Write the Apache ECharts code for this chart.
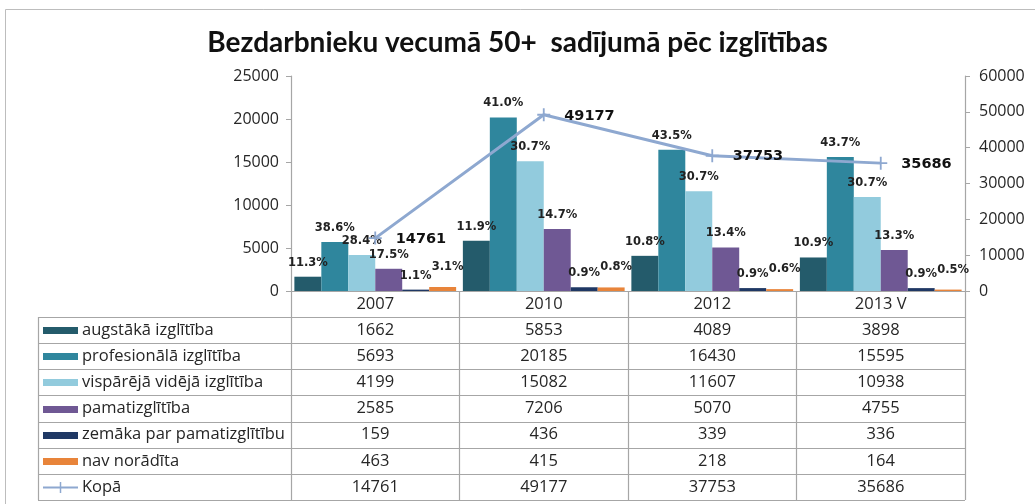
<!DOCTYPE html>
<html>
<head>
<meta charset="utf-8">
<script src="https://cdn.jsdelivr.net/npm/echarts@6/dist/echarts.min.js"></script>
<style>
  html, body { margin: 0; padding: 0; background: #fff; }
  #chart { width: 1035px; height: 504px; }
</style>
</head>
<body>
<div id="chart"></div>
<script>
const categories = ['2007', '2010', '2012', '2013 V'];
const seriesNames = [
  'augstākā izglītība',
  'profesionālā izglītība',
  'vispārējā vidējā izglītība',
  'pamatizglītība',
  'zemāka par pamatizglītību',
  'nav norādīta'
];
const augstaka = [1662, 5853, 4089, 3898];
const profesionala = [5693, 20185, 16430, 15595];
const visparejaVideja = [4199, 15082, 11607, 10938];
const pamatizglitiba = [2585, 7206, 5070, 4755];
const zemaka = [159, 436, 339, 336];
const navNoradita = [463, 415, 218, 164];
const kopa = [14761, 49177, 37753, 35686];
const totalName = 'Kopā';

const barData = [augstaka, profesionala, visparejaVideja, pamatizglitiba, zemaka, navNoradita];
const colors = ['#245B6B', '#2F869D', '#92CBDD', '#6F5894', '#1F3864', '#E8843A'];
const lineColor = '#8EA8D0';

// plot box
const gridLeft = 291, gridRight = 965, gridTop = 76, gridBottom = 291;
const rowTop = 317, rowH = 26.15, tableLeft = 38;
const colW = (gridRight - gridLeft) / categories.length;
const gray = '#A6A6A6';
const txtFont = 'Open Sans';

const crossPath = 'path://M4.3,0h1.4v10h-1.4z M0,4.3h10v1.4h-10z';

const series = barData.map((vals, i) => ({
  name: seriesNames[i],
  type: 'bar',
  data: vals,
  barGap: 0,
  barCategoryGap: '4%',
  itemStyle: { color: colors[i] },
  label: {
    show: true,
    position: 'top',
    distance: i === 5 ? 14 : 8,
    offset: i === 5 ? [5, 0] : [0, 0],
    fontFamily: 'DejaVu Sans',
    fontWeight: 'bold',
    fontSize: 11.5,
    color: '#222',
    formatter: p => (p.value / kopa[p.dataIndex] * 100).toFixed(1) + '%'
  },
  z: 2
}));

series.push({
  name: totalName,
  type: 'line',
  yAxisIndex: 1,
  data: kopa,
  symbol: crossPath,
  symbolSize: 13,
  lineStyle: { color: lineColor, width: 3 },
  itemStyle: { color: lineColor },
  label: {
    show: true,
    position: 'right',
    distance: 14,
    offset: [0, 1],
    fontFamily: 'DejaVu Sans',
    fontWeight: 'bold',
    fontSize: 14.5,
    color: '#111'
  },
  z: 5
});

// data table drawn under the axis
const graphics = [];
graphics.push({
  type: 'rect', silent: true,
  shape: { x: 5.5, y: 9.5, width: 1100, height: 600 },
  style: { fill: 'none', stroke: '#BDBDBD', lineWidth: 1 }
});
const rows = seriesNames.length + 1;
for (let r = 0; r <= rows; r++) {
  const y = Math.round(rowTop + r * rowH) + 0.5;
  graphics.push({
    type: 'line', silent: true,
    shape: { x1: tableLeft, y1: y, x2: gridRight, y2: y },
    style: { stroke: gray, lineWidth: 1.2 }
  });
}
graphics.push({
  type: 'line', silent: true,
  shape: { x1: tableLeft + 0.5, y1: rowTop, x2: tableLeft + 0.5, y2: rowTop + rows * rowH },
  style: { stroke: gray, lineWidth: 1.2 }
});
const allRows = barData.concat([kopa]);
const allNames = seriesNames.concat([totalName]);
allRows.forEach((vals, r) => {
  const cy = rowTop + (r + 0.5) * rowH;
  if (r < barData.length) {
    graphics.push({
      type: 'rect', silent: true,
      shape: { x: 43, y: Math.round(cy - 3), width: 35, height: 7 },
      style: { fill: colors[r] }
    });
  } else {
    graphics.push({
      type: 'line', silent: true,
      shape: { x1: 43, y1: cy + 0.5, x2: 78, y2: cy + 0.5 },
      style: { stroke: lineColor, lineWidth: 2 }
    });
    graphics.push({
      type: 'line', silent: true,
      shape: { x1: 60.5, y1: cy - 5, x2: 60.5, y2: cy + 6 },
      style: { stroke: lineColor, lineWidth: 1.5 }
    });
  }
  graphics.push({
    type: 'text', silent: true,
    x: 82, y: cy,
    style: { text: allNames[r], fontFamily: txtFont, fontSize: 16.5, fill: '#262626', verticalAlign: 'middle' }
  });
  vals.forEach((v, c) => {
    graphics.push({
      type: 'text', silent: true,
      x: gridLeft + (c + 0.5) * colW, y: cy,
      style: { text: String(v), fontFamily: txtFont, fontSize: 16.5, fill: '#262626', align: 'center', verticalAlign: 'middle' }
    });
  });
});

const chart = echarts.init(document.getElementById('chart'));
chart.setOption({
  animation: false,
  backgroundColor: '#fff',
  title: {
    text: 'Bezdarbnieku vecumā 50+  sadījumā pēc izglītības',
    left: 'center',
    top: 24,
    textStyle: { fontFamily: 'Lato', fontWeight: 'bold', fontSize: 28, color: '#111' }
  },
  grid: {
    left: gridLeft,
    right: 1035 - gridRight,
    top: gridTop,
    bottom: 504 - gridBottom,
    containLabel: false
  },
  xAxis: {
    type: 'category',
    data: categories,
    boundaryGap: true,
    axisLine: { show: true, lineStyle: { color: gray, width: 1.2 } },
    axisTick: { show: true, length: 209, alignWithLabel: false, lineStyle: { color: gray, width: 1.2 } },
    axisLabel: { margin: 5, fontFamily: txtFont, fontSize: 16.5, color: '#262626' }
  },
  yAxis: [
    {
      type: 'value',
      min: 0, max: 25000, interval: 5000,
      axisLine: { show: true, lineStyle: { color: gray, width: 1.2 } },
      axisTick: { show: true, length: 5, lineStyle: { color: gray } },
      splitLine: { show: false },
      axisLabel: { margin: 12, fontFamily: txtFont, fontSize: 16, color: '#262626', formatter: v => String(v) }
    },
    {
      type: 'value',
      min: 0, max: 60000, interval: 10000,
      position: 'right',
      axisLine: { show: true, lineStyle: { color: gray, width: 1.2 } },
      axisTick: { show: true, length: 5, lineStyle: { color: gray } },
      splitLine: { show: false },
      axisLabel: { margin: 14, fontFamily: txtFont, fontSize: 16, color: '#262626', formatter: v => String(v) }
    }
  ],
  series: series,
  graphic: graphics
});
</script>
</body>
</html>
